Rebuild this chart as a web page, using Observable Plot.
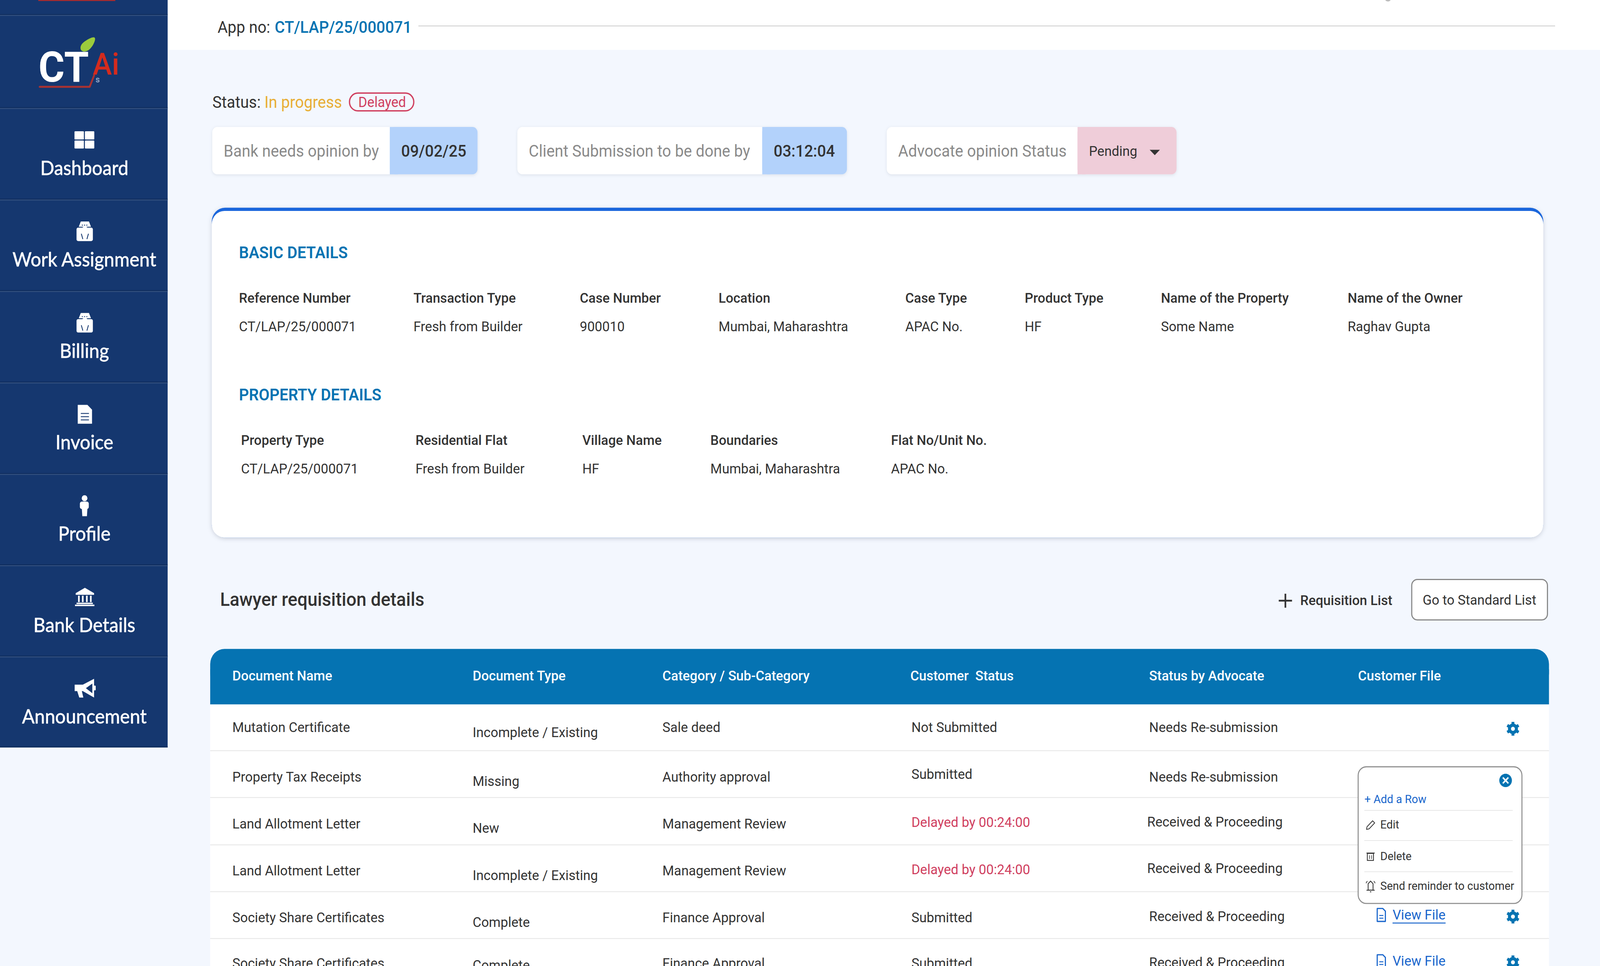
<!DOCTYPE html>
<html><head><meta charset="utf-8">
<style>html,body{margin:0;padding:0;background:#F3F7FE;overflow:hidden}svg{display:block;width:100vw!important;height:100vh!important;max-width:none!important}</style>
<script src="https://cdn.jsdelivr.net/npm/d3@7"></script>
<script src="https://cdn.jsdelivr.net/npm/@observablehq/plot@0.6"></script>
</head><body><div id="app"></div>
<script>
// ---------- content ----------
const sidebarItems = ["Dashboard","Work Assignment","Billing","Invoice","Profile","Bank Details","Announcement"];
const appLabel = "App no:";
const appNumber = "CT/LAP/25/000071";
const statusLabels = ["Status:","In progress","Delayed"];
const cardLabels = ["Bank needs opinion by","Client Submission to be done by","Advocate opinion Status"];
const cardValues = ["09/02/25","03:12:04","Pending"];
const basicTitle = "BASIC DETAILS";
const basicHeaders = ["Reference Number","Transaction Type","Case Number","Location","Case Type","Product Type","Name of the Property","Name of the Owner"];
const basicValues = ["CT/LAP/25/000071","Fresh from Builder","900010","Mumbai, Maharashtra","APAC No.","HF","Some Name","Raghav Gupta"];
const propertyTitle = "PROPERTY DETAILS";
const propertyHeaders = ["Property Type","Residential Flat","Village Name","Boundaries","Flat No/Unit No."];
const propertyValues = ["CT/LAP/25/000071","Fresh from Builder","HF","Mumbai, Maharashtra","APAC No."];
const sectionTitle = "Lawyer requisition details";
const requisitionLabel = "Requisition List";
const standardLabel = "Go to Standard List";
const tableHeaders = ["Document Name","Document Type","Category / Sub-Category","Customer  Status","Status by Advocate","Customer File"];
const documentNames = ["Mutation Certificate","Property Tax Receipts","Land Allotment Letter","Land Allotment Letter","Society Share Certificates","Society Share Certificates"];
const documentTypes = ["Incomplete / Existing","Missing","New","Incomplete / Existing","Complete","Complete"];
const categories = ["Sale deed","Authority approval","Management Review","Management Review","Finance Approval","Finance Approval"];
const customerStatus = ["Not Submitted","Submitted","Delayed by 00:24:00","Delayed by 00:24:00","Submitted","Submitted"];
const advocateStatus = ["Needs Re-submission","Needs Re-submission","Received & Proceeding","Received & Proceeding","Received & Proceeding","Received & Proceeding"];
const fileLabel = "View File";
const popupItems = ["+ Add a Row","Edit","Delete","Send reminder to customer"];

// ---------- layout (preview units: 1568 wide) ----------
const W = 4320, H = 2473, VW = 1568, VH = H * VW / W, k = W / VW;
const sidebarRules = [13.9,100.4,185.4,270.4,355.4,440.4,525.2,610];
const sidebarLabelY = [156.5,241.5,326.5,411.5,496.3,581.2,666.2];
const sidebarIconY = [130,215,300,385,470,555,640];
const cardX = [[208,382,468],[507,747,830],[869,1056,1153]];
const basicX = [234,405,568,704,887,1004,1137.5,1320.5];
const propertyX = [236,407,570.5,696,873];
const headerX = [227.5,463,649,892,1126,1330.7];
const rowRules = [697.5,741,785,828.5,872];
const nameY = [676,722,765.5,809,852.5,895];
const typeY = [680.5,726,769.5,813.5,857,897];
const custY = [676,719.5,764,808,852.5,895];
const advY = [676,722,763.5,807,851.5,894.5];
const advX = [1126,1126,1124,1124,1126,1126];
const gearY = [677,851.5,894];
const fileY = [850,893];
const popupY = [742.5,766,795.5,823];
const popupX = [1337,1352.5,1352.5,1352.5];
const popupRules = [753,781,810];

// ---------- colours ----------
const navy="#15376F", ink="#333333", blue="#0573B2", link="#1A66CC", red="#D0405F";
const FONT="Roboto";

// ---------- helpers ----------
const box=(x1,x2,y1,y2,fill,o={})=>Plot.rect([{x1,x2,y1,y2}],{x1:"x1",x2:"x2",y1:"y1",y2:"y2",fill,...o});
const rbox=(x1,x2,y1,y2,fill,r,o={})=>box(x1,x2,y1,y2,fill,{rx:r*k,ry:r*k,...o});
const label=(rows,o={})=>Plot.text(rows,{x:"x",y:"y",text:"t",fontFamily:FONT,fontSize:36,textAnchor:"start",lineAnchor:"middle",fill:ink,...o});
const along=(ts,xs,ys)=>ts.map((t,i)=>({t,x:Array.isArray(xs)?xs[i]:xs,y:Array.isArray(ys)?ys[i]:ys}));
const seg=(x1,y1,x2,y2,stroke,sw,o={})=>Plot.link([{x1,y1,x2,y2}],{x1:"x1",y1:"y1",x2:"x2",y2:"y2",stroke,strokeWidth:sw,...o});
const poly=(pts,fill,o={})=>Plot.line(pts.map(([x,y])=>({x,y})),{x:"x",y:"y",fill,stroke:"none",curve:"linear-closed",...o});
const dot=(x,y,r,fill,o={})=>Plot.dot([{x,y}],{x:"x",y:"y",r:r*k,fill,stroke:"none",...o});
const shadow="drop-shadow(0 3px 6px rgba(60,70,90,0.22))";

function gear(cx,cy){
  const a=[0,60,120].map(d=>d*Math.PI/180), R=6.4;
  return [
    ...a.map(t=>seg(cx-R*Math.sin(t),cy-R*Math.cos(t),cx+R*Math.sin(t),cy+R*Math.cos(t),blue,2.8*k)),
    dot(cx,cy,4.9,blue), dot(cx,cy,1.9,"#fff")
  ];
}
function hatPerson(cy){
  return [
    poly([[79,cy-9.4],[87,cy-9.4],[89,cy-4.5],[77,cy-4.5]],"#fff"),
    rbox(75,91,cy-3.5,cy+9,"#fff",1.6),
    dot(83,cy-2,2.9,"#fff"),
    seg(80,cy-6,86,cy-6,navy,0.8*k,{strokeDasharray:"3 3"}),
    seg(79.5,cy+2,81,cy+7,navy,0.8*k), seg(86.5,cy+2,85,cy+7,navy,0.8*k)
  ];
}
function fileIcon(x,y){
  return [
    poly([[x-4,y-6],[x+1.5,y-6],[x+4,y-3.5],[x+4,y+6],[x-4,y+6]],"none",{stroke:link,strokeWidth:1.1*k}),
    seg(x-2,y+.5,x+2,y+.5,link,.9*k), seg(x-2,y+3,x+2,y+3,link,.9*k)
  ];
}

const sidebarIcons=[
  cy=>[rbox(73,82.2,cy-8,cy-.4,"#fff",.6),rbox(83.2,92.4,cy-8,cy-.4,"#fff",.6),rbox(73,82.2,cy+.6,cy+8,"#fff",.6),rbox(83.2,92.4,cy+.6,cy+8,"#fff",.6)],
  hatPerson,
  hatPerson,
  cy=>[poly([[76,cy-9],[85.5,cy-9],[90,cy-4.5],[90,cy+8.5],[76,cy+8.5]],"#fff"),
       seg(79,cy-1,87,cy-1,navy,.8*k),seg(79,cy+2,87,cy+2,navy,.8*k),seg(79,cy+5,87,cy+5,navy,.8*k)],
  cy=>[dot(82.7,cy-7.2,2.8,"#fff"),rbox(78.3,87,cy-4,cy+3,"#fff",2),poly([[80,cy+2],[85.5,cy+2],[85,cy+9.5],[80.5,cy+9.5]],"#fff")],
  cy=>[poly([[83,cy-9],[92,cy-4],[92,cy-2.5],[74,cy-2.5],[74,cy-4]],"#fff"),
       ...[76.5,80.3,84.3,88.2].map(x=>box(x,x+1.6,cy-1.5,cy+4.5,"#fff")),
       box(75,91,cy+5,cy+6.3,"#fff"),box(73.5,92.5,cy+6.8,cy+8.2,"#fff")],
  cy=>[poly([[73,cy-4],[81,cy-4],[92,cy-9.4],[92,cy+8],[81,cy+2],[80,cy+2],[81.5,cy+8],[77.5,cy+8],[75.5,cy+2],[73,cy+2]],"#fff"),
       poly([[84,cy-.7],[90.3,cy-5],[90.3,cy+4]],navy),
       rbox(92,93.8,cy-3,cy+1.5,"#fff",.8)]
];

const marks=[
  // page
  box(0,VW,0,VH,"#F3F7FE"),
  box(164.3,VW,0,46.3,"#fff"),
  // sidebar
  box(0,164.3,0,694.5,navy),
  ...sidebarRules.map(y=>box(0,164.3,y-.8,y,"#0F2C5C")),
  ...sidebarRules.map(y=>box(0,164.3,y,y+.9,"#33507F")),
  box(0,164.3,693.5,694.5,"#0F2C5C"),
  box(37.5,113,0,.9,"#B22A2A"),
  // logo
  poly([[79,48],[78,42],[84,37],[94.5,32.5],[92,41],[86,48]],"#9BCB3C",{curve:"basis-closed"}),
  label(along(["CT"],37.5,63),{fill:"#fff",fontSize:108,fontWeight:700}),
  label(along(["Ai"],90.7,60),{fill:"#D42B1E",fontSize:78,fontWeight:500}),
  Plot.line([[38.7,80.5],[87.7,80.5],[92,70]].map(([x,y])=>({x,y})),{x:"x",y:"y",stroke:"#A83232",strokeWidth:5}),
  label(along(["s"],93.5,73.8),{fill:"#8FA3C4",fontSize:22,fontWeight:700}),
  ...sidebarIcons.flatMap((f,i)=>f(sidebarIconY[i])),
  label(along(sidebarItems,82.5,sidebarLabelY),{fill:"#fff",fontSize:50,textAnchor:"middle",fontFamily:"Lato",fontWeight:400,stroke:"#fff",strokeWidth:.8}),
  // header
  label(along([appLabel],213,25.5),{fontSize:42}),
  label(along([appNumber],269,25.5),{fontSize:42,fill:blue,fontWeight:500}),
  box(410,1524,23.6,24.6,"#D9D9D9"),
  dot(1360,-2,3.2,"#BBBBBB"),
  // status
  label(along(statusLabels.slice(0,1),208,95),{fontSize:42}),
  label(along(statusLabels.slice(1,2),259,95),{fontSize:42,fill:"#E8AE35"}),
  rbox(342.5,405.5,86.5,103,"none",8.2,{stroke:red,strokeWidth:3.4}),
  label(along(statusLabels.slice(2),351,95),{fontSize:36.5,fill:red}),
  // status cards
  ...cardX.flatMap(([a,b,c],i)=>{
    const tint=i<2?"#B3D2FB":"#EFCDD9";
    return [
      rbox(a,c,118,162,"#fff",5,{imageFilter:"drop-shadow(0 2px 4px rgba(60,70,90,0.12))"}),
      rbox(b,c,118,162,tint,5),
      box(b,b+8,118,162,tint),
      label(along([cardLabels[i]],a+11,140.5),{fontSize:42,fill:"#8A8A8A"}),
      label(along([cardValues[i]],b+11,140.5),i<2?{fontSize:42,fontWeight:500}:{fontSize:36})
    ];
  }),
  poly([[1126.5,139],[1136.5,139],[1131.5,144]],ink),
  // details card
  rbox(207.5,1512.5,193,499.5,"#1A66DC",13,{imageFilter:shadow}),
  rbox(207.5,1512.5,196,499.5,"#fff",12.5),
  label(along([basicTitle],234,235),{fontSize:42,fontWeight:600,fill:blue}),
  label(along(basicHeaders,basicX,277),{fontSize:36,fontWeight:500}),
  label(along(basicValues,basicX,303.5),{fontSize:36}),
  label(along([propertyTitle],234,367),{fontSize:42,fontWeight:600,fill:blue}),
  label(along(propertyHeaders,propertyX,409),{fontSize:36,fontWeight:500}),
  label(along(propertyValues,propertyX,435.5),{fontSize:36}),
  // section header
  label(along([sectionTitle],215.5,557),{fontSize:48.3,fontWeight:500}),
  seg(1253,558,1266,558,ink,4.5), seg(1259.5,551.5,1259.5,564.5,ink,4.5),
  label(along([requisitionLabel],1274,558),{fontSize:36,fontWeight:500}),
  rbox(1383.5,1516.5,538.5,576,"#fff",5.5,{stroke:"#888888",strokeWidth:3}),
  label(along([standardLabel],1394,557.5),{fontSize:36}),
  // table
  box(206,1518,640,VH,"#fff"),
  rbox(206,1518,603,640,blue,14),
  box(206,1518,622,654.5,blue),
  label(along(tableHeaders,headerX,628),{fontSize:36,fontWeight:500,fill:"#fff"}),
  ...rowRules.map(y=>box(206,1518,y-.3,y+.4,"#E4E4E4")),
  label(along(documentNames,227.5,nameY)),
  label(along(documentTypes,463,typeY)),
  label(along(categories,649,nameY)),
  label(along(customerStatus,893,custY),{fill:d=>d.t.startsWith("Delayed")?red:ink}),
  label(along(advocateStatus,advX,advY)),
  ...gearY.flatMap(y=>gear(1482.5,y)),
  ...fileY.flatMap(y=>[
    ...fileIcon(1353.5,y),
    label(along([fileLabel],1364.5,y),{fontSize:36,fill:link}),
    seg(1364.5,y+7.5,1416.5,y+7.5,link,2.4)
  ]),
  // popup
  rbox(1331,1491.5,712.5,839.5,"#fff",8,{stroke:"#8F8F8F",strokeWidth:2.8}),
  dot(1475.3,725,6.2,blue),
  seg(1472.6,722.3,1478,727.7,"#fff",4), seg(1478,722.3,1472.6,727.7,"#fff",4),
  label(along(popupItems.slice(0,1),popupX[0],popupY[0]),{fontSize:30,fill:link}),
  label(along(popupItems.slice(1),popupX.slice(1),popupY.slice(1)),{fontSize:30}),
  ...popupRules.map(y=>box(1337,1482.5,y-.3,y+.3,"#E2E2E2")),
  // pencil
  poly([[1339,770.5],[1339.5,768],[1345,762.5],[1347,764.5],[1341.5,770]],"none",{stroke:ink,strokeWidth:2}),
  // bin
  box(1340,1346,793,799.5,"none",{stroke:ink,strokeWidth:2.2}),
  seg(1339,792.5,1347,792.5,ink,2.4),
  seg(1342,794.5,1342,798,ink,1.6), seg(1344,794.5,1344,798,ink,1.6),
  // bell
  poly([[1340.6,827],[1340.6,821],[1343,818.5],[1345.4,821],[1345.4,827]],"none",{stroke:ink,strokeWidth:2.2}),
  seg(1339,827,1347,827,ink,2.2), seg(1342.3,828.5,1343.7,828.5,ink,2.2),
  seg(1338.5,820.5,1339.8,818.5,ink,1.8), seg(1347.5,820.5,1346.2,818.5,ink,1.8)
];

const chart=Plot.plot({
  width:W,height:H,margin:0,
  style:{background:"#F3F7FE",fontFamily:FONT},
  x:{domain:[0,VW],range:[0,W],axis:null},
  y:{domain:[0,VH],range:[0,H],axis:null},
  marks
});
// the window may be narrower than 4320: let the drawing fill it edge to edge
chart.setAttribute("preserveAspectRatio","none");
document.getElementById("app").append(chart);
</script></body></html>
